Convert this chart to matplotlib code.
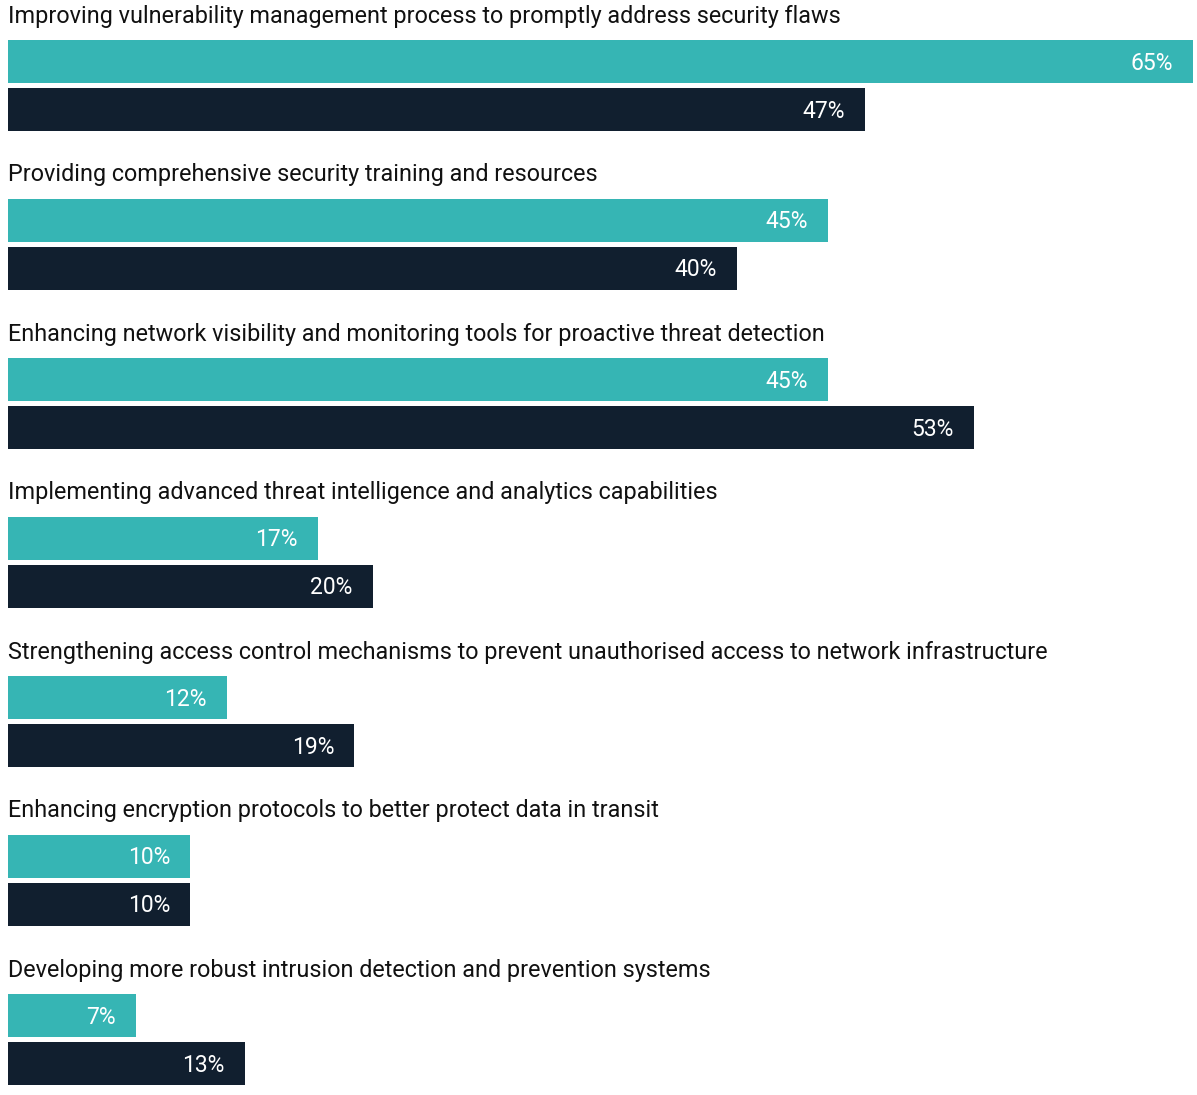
import matplotlib
matplotlib.use("Agg")
import matplotlib.pyplot as plt
import numpy as np

plt.rcParams['font.family'] = ['Roboto', 'DejaVu Sans']

categories = [
    "Improving vulnerability management process to promptly address security flaws",
    "Providing comprehensive security training and resources",
    "Enhancing network visibility and monitoring tools for proactive threat detection",
    "Implementing advanced threat intelligence and analytics capabilities",
    "Strengthening access control mechanisms to prevent unauthorised access to network infrastructure",
    "Enhancing encryption protocols to better protect data in transit",
    "Developing more robust intrusion detection and prevention systems",
]
series_a = [65, 45, 45, 17, 12, 10, 7]
series_b = [47, 40, 53, 20, 19, 10, 13]

TEAL = '#36b5b4'
NAVY = '#111f2f'

W, H = 1197, 1095
fig = plt.figure(figsize=(W / 100, H / 100), dpi=100)
ax = fig.add_axes([0, 0, 1, 1])

# pixel-based layout: x in percent, y in pixels from top
px_per_pct = (1193 - 8) / 65
ax.set_xlim(-8 / px_per_pct, (W - 8) / px_per_pct)
ax.set_ylim(H, 0)
ax.axis('off')

step = 159
bar_h = 43
for i, (cat, a, b) in enumerate(zip(categories, series_a, series_b)):
    top = 40 + step * i
    ya = top + bar_h / 2
    yb = top + 48 + bar_h / 2
    ax.barh(ya, a, height=bar_h, color=TEAL, left=0)
    ax.barh(yb, b, height=bar_h, color=NAVY, left=0)
    ax.text(0, top - 24, cat, fontsize=16.8, color='#111111', va='center', ha='left')
    for y, v in ((ya, a), (yb, b)):
        ax.annotate(f"{v}%", xy=(v, y + 1.5), xytext=(-14.5, 0), textcoords='offset points',
                    ha='right', va='center', color='white', fontsize=16.5)

fig.savefig('out.png', dpi=100)
